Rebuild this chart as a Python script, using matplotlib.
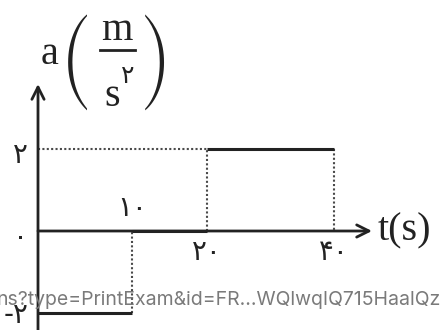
import os
import numpy as np
import matplotlib
matplotlib.use("Agg")
import matplotlib.pyplot as plt
import matplotlib.transforms as mtransforms
from matplotlib.font_manager import FontProperties
from matplotlib.lines import Line2D


# =========================================================
# Dados do gráfico a(t)
# =========================================================
tempos = [0, 10, 20, 40]            # limites dos intervalos (s)
aceleracao = [-2, 0, 2]             # a em cada intervalo (m/s2)
rotulos_t = ["۱۰", "۲۰", "۴۰"]
valores_a = [2, 0, -2]
rotulos_a = ["۲", "۰", "-۲"]
marca_dagua = "ns?type=PrintExam&id=FR…WQlwqIQ715HaalQz"

# escala do eixo t no desenho original (não é uniforme)
t_nos = np.array([0.0, 10.0, 20.0, 40.0])
px_nos = np.array([0.0, 94.0, 169.0, 296.0])

COR = "#222222"
COR_PONTO = "#4a4a4a"
PERSA = ["DejaVu Sans"]
SERIF = ["Liberation Serif", "DejaVu Serif"]
# parênteses grandes (variante de tamanho da fonte STIX que vem com o matplotlib)
PAREN = FontProperties(fname=os.path.join(matplotlib.get_data_path(), "fonts", "ttf",
                                          "STIXSizThreeSymReg.ttf"), size=28)


def _interp_ext(x, xp, fp):
    x = np.asarray(x, dtype=float)
    y = np.interp(x, xp, fp)
    y = np.where(x < xp[0], fp[0] + (x - xp[0]) * (fp[1] - fp[0]) / (xp[1] - xp[0]), y)
    y = np.where(x > xp[-1], fp[-1] + (x - xp[-1]) * (fp[-1] - fp[-2]) / (xp[-1] - xp[-2]), y)
    return y


def fwd(t):
    return _interp_ext(t, t_nos, px_nos)


def inv(p):
    return _interp_ext(p, px_nos, t_nos)


# =========================================================
# Figura
# =========================================================
W, H = 440, 330
fig = plt.figure(figsize=(W / 100, H / 100), dpi=100)
ax = fig.add_axes([0, 0, 1, 1])
ax.set_xscale("function", functions=(fwd, inv))

x0, y0 = 38, 231          # origem em pixels
py = 41                   # pixels por unidade de a
ax.set_xlim(float(inv(-x0)), float(inv(W - x0)))
ax.set_ylim(-(H - y0) / py, y0 / py)
ax.axis("off")


def fx(px):
    return px / W


def fy(px):
    return 1 - px / H


# eixos com setas
seta = dict(arrowstyle="->", lw=2, color=COR, mutation_scale=22, shrinkA=0, shrinkB=0)
ax.annotate("", xy=(0, (y0 - 84) / py), xytext=(0, -(H - y0) / py), arrowprops=seta)
ax.annotate("", xy=(float(inv(372 - x0)), 0), xytext=(0, 0), arrowprops=seta)

# linhas pontilhadas de referência
pont = dict(color=COR_PONTO, lw=1.5, linestyle=(0, (1, 1.1)))
a_max = max(aceleracao)
i_max = aceleracao.index(a_max)
ax.plot([tempos[0], tempos[i_max]], [a_max, a_max], **pont)
for i in range(1, len(tempos)):
    antes = aceleracao[i - 1]
    depois = aceleracao[i] if i < len(aceleracao) else 0
    ax.plot([tempos[i], tempos[i]], [antes, depois], **pont)

# degraus da aceleração
for i, a in enumerate(aceleracao):
    ax.plot([tempos[i], tempos[i + 1]], [a, a], color=COR, lw=2.2, solid_capstyle="butt")

# rótulos do eixo t
for t, rot in zip(tempos[1:], rotulos_t):
    ypos = 0.55 if t == tempos[1] else -0.5
    ax.text(t, ypos, rot, family=PERSA, fontsize=20,
            ha="center", va="center", color=COR)

# rótulos do eixo a
trans = mtransforms.blended_transform_factory(fig.transFigure, ax.transData)
for v, rot in zip(valores_a, rotulos_a):
    ax.text(fx(16 if v < 0 else 20), v + (-0.05 if v < 0 else -0.15), rot, transform=trans,
            family=PERSA, fontsize=20, ha="center", va="center", color=COR)

# título do eixo t
fig.text(fx(378), fy(231), "t(s)", family=SERIF, fontsize=29,
         ha="left", va="center", color=COR)

# título do eixo a:  a (m / s^2)
fig.text(fx(50), fy(54), "a", family=SERIF, fontsize=29,
         ha="center", va="center", color=COR)
fig.text(fx(75), fy(62), "(", fontproperties=PAREN, ha="center", va="center", color=COR)
fig.text(fx(156), fy(62), ")", fontproperties=PAREN, ha="center", va="center", color=COR)
fig.text(fx(117), fy(31), "m", family=SERIF, fontsize=29, ha="center", va="center", color=COR)
fig.add_artist(Line2D([fx(100), fx(135)], [fy(50), fy(50)], color=COR, lw=2,
                      transform=fig.transFigure))
fig.text(fx(112), fy(97), "s", family=SERIF, fontsize=29, ha="center", va="center", color=COR)
fig.text(fx(128), fy(76), "۲", family=PERSA, fontsize=18, ha="center", va="center", color=COR)

# marca d'água da página de origem
fig.text(fx(-4), fy(300), marca_dagua, family=["Inter", "DejaVu Sans"],
         fontsize=14, ha="left", va="center", color="#7a7a7a")

fig.savefig("out.png", dpi=100)
